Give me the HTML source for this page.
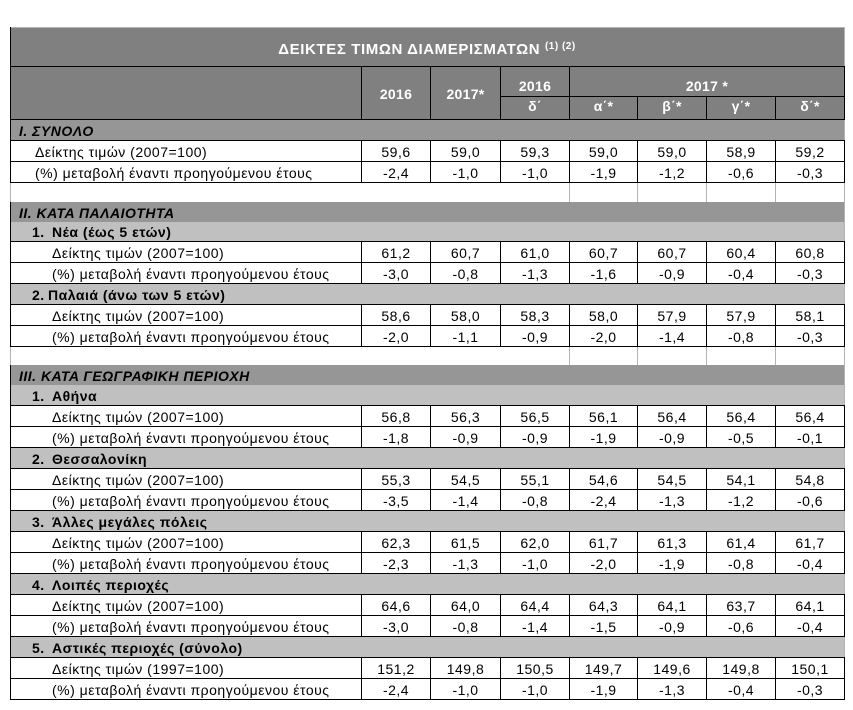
<!DOCTYPE html>
<html>
<head>
<meta charset="utf-8">
<style>
body{margin:0;background:#fff;}
#c{position:relative;width:853px;height:710px;overflow:hidden;font-family:"Liberation Sans",Arial,sans-serif;font-size:14px;letter-spacing:0.5px;color:#000;background:#fff;}
.f{position:absolute;left:10px;width:835px;}
.d{background:#969696;}
.s{background:#c0c0c0;}
.h{position:absolute;height:1px;background:#000;left:10px;width:835px;}
.v{position:absolute;width:1px;background:#000;}
.g{background:#b4b4b4;}
.t{position:absolute;height:20px;line-height:20px;white-space:nowrap;}
.n{text-align:center;}
.bi{font-weight:bold;font-style:italic;}
.b{font-weight:bold;}
.w{color:#fff;font-weight:bold;letter-spacing:0.3px;}
</style>
</head>
<body>
<div id="c">
<!-- fills -->
<div class="f" style="top:28px;height:91px;background:#808080;"></div>
<div class="f d" style="top:120px;height:20px;"></div>
<div class="f d" style="top:202px;height:20px;"></div>
<div class="f s" style="top:222px;height:19px;"></div>
<div class="f s" style="top:284px;height:20px;"></div>
<div class="f d" style="top:365px;height:20px;"></div>
<div class="f s" style="top:385px;height:20px;"></div>
<div class="f s" style="top:448px;height:20px;"></div>
<div class="f s" style="top:511px;height:20px;"></div>
<div class="f s" style="top:574px;height:20px;"></div>
<div class="f s" style="top:637px;height:20px;"></div>

<!-- outer frame -->
<div class="h g" style="top:27px;"></div>
<div class="v" style="left:10px;top:27px;height:673px;"></div>
<div class="v g" style="left:844px;top:27px;height:673px;"></div>

<!-- header lines -->
<div class="h" style="top:66px;"></div>
<div class="h" style="top:119px;"></div>
<div class="h" style="top:96px;left:500px;width:345px;"></div>
<div class="v" style="left:361px;top:66px;height:54px;"></div>
<div class="v" style="left:430px;top:66px;height:54px;"></div>
<div class="v" style="left:500px;top:66px;height:54px;"></div>
<div class="v" style="left:569px;top:66px;height:54px;"></div>
<div class="v" style="left:844px;top:66px;height:54px;"></div>
<div class="v" style="left:637px;top:96px;height:24px;"></div>
<div class="v" style="left:706px;top:96px;height:24px;"></div>
<div class="v" style="left:775px;top:96px;height:24px;"></div>

<!-- blank rows -->
<div class="v g" style="left:10px;top:183px;height:19px;"></div>
<div class="v g" style="left:569px;top:183px;height:19px;"></div>
<div class="v g" style="left:637px;top:183px;height:19px;"></div>
<div class="v g" style="left:706px;top:183px;height:19px;"></div>
<div class="v g" style="left:775px;top:183px;height:19px;"></div>
<div class="v g" style="left:844px;top:183px;height:19px;"></div>
<div class="v g" style="left:10px;top:347px;height:18px;"></div>
<div class="v g" style="left:569px;top:347px;height:18px;"></div>
<div class="v g" style="left:637px;top:347px;height:18px;"></div>
<div class="v g" style="left:706px;top:347px;height:18px;"></div>
<div class="v g" style="left:775px;top:347px;height:18px;"></div>
<div class="v g" style="left:844px;top:347px;height:18px;"></div>

<!-- data block lines: horizontals -->
<div class="h" style="top:140px;"></div><div class="h" style="top:161px;"></div><div class="h" style="top:182px;"></div>
<div class="h" style="top:241px;"></div><div class="h" style="top:262px;"></div><div class="h" style="top:283px;"></div>
<div class="h" style="top:304px;"></div><div class="h" style="top:325px;"></div><div class="h" style="top:346px;"></div>
<div class="h" style="top:405px;"></div><div class="h" style="top:426px;"></div><div class="h" style="top:447px;"></div>
<div class="h" style="top:468px;"></div><div class="h" style="top:489px;"></div><div class="h" style="top:510px;"></div>
<div class="h" style="top:531px;"></div><div class="h" style="top:552px;"></div><div class="h" style="top:573px;"></div>
<div class="h" style="top:594px;"></div><div class="h" style="top:615px;"></div><div class="h" style="top:636px;"></div>
<div class="h" style="top:657px;"></div><div class="h" style="top:678px;"></div><div class="h" style="top:699px;"></div>

<!-- data block verticals -->
<div class="v" style="left:844px;top:140px;height:43px;"></div><div class="v" style="left:361px;top:140px;height:43px;"></div><div class="v" style="left:430px;top:140px;height:43px;"></div><div class="v" style="left:500px;top:140px;height:43px;"></div><div class="v" style="left:569px;top:140px;height:43px;"></div><div class="v" style="left:637px;top:140px;height:43px;"></div><div class="v" style="left:706px;top:140px;height:43px;"></div><div class="v" style="left:775px;top:140px;height:43px;"></div>
<div class="v" style="left:844px;top:241px;height:43px;"></div><div class="v" style="left:361px;top:241px;height:43px;"></div><div class="v" style="left:430px;top:241px;height:43px;"></div><div class="v" style="left:500px;top:241px;height:43px;"></div><div class="v" style="left:569px;top:241px;height:43px;"></div><div class="v" style="left:637px;top:241px;height:43px;"></div><div class="v" style="left:706px;top:241px;height:43px;"></div><div class="v" style="left:775px;top:241px;height:43px;"></div>
<div class="v" style="left:844px;top:304px;height:43px;"></div><div class="v" style="left:361px;top:304px;height:43px;"></div><div class="v" style="left:430px;top:304px;height:43px;"></div><div class="v" style="left:500px;top:304px;height:43px;"></div><div class="v" style="left:569px;top:304px;height:43px;"></div><div class="v" style="left:637px;top:304px;height:43px;"></div><div class="v" style="left:706px;top:304px;height:43px;"></div><div class="v" style="left:775px;top:304px;height:43px;"></div>
<div class="v" style="left:844px;top:405px;height:43px;"></div><div class="v" style="left:361px;top:405px;height:43px;"></div><div class="v" style="left:430px;top:405px;height:43px;"></div><div class="v" style="left:500px;top:405px;height:43px;"></div><div class="v" style="left:569px;top:405px;height:43px;"></div><div class="v" style="left:637px;top:405px;height:43px;"></div><div class="v" style="left:706px;top:405px;height:43px;"></div><div class="v" style="left:775px;top:405px;height:43px;"></div>
<div class="v" style="left:844px;top:468px;height:43px;"></div><div class="v" style="left:361px;top:468px;height:43px;"></div><div class="v" style="left:430px;top:468px;height:43px;"></div><div class="v" style="left:500px;top:468px;height:43px;"></div><div class="v" style="left:569px;top:468px;height:43px;"></div><div class="v" style="left:637px;top:468px;height:43px;"></div><div class="v" style="left:706px;top:468px;height:43px;"></div><div class="v" style="left:775px;top:468px;height:43px;"></div>
<div class="v" style="left:844px;top:531px;height:43px;"></div><div class="v" style="left:361px;top:531px;height:43px;"></div><div class="v" style="left:430px;top:531px;height:43px;"></div><div class="v" style="left:500px;top:531px;height:43px;"></div><div class="v" style="left:569px;top:531px;height:43px;"></div><div class="v" style="left:637px;top:531px;height:43px;"></div><div class="v" style="left:706px;top:531px;height:43px;"></div><div class="v" style="left:775px;top:531px;height:43px;"></div>
<div class="v" style="left:844px;top:594px;height:43px;"></div><div class="v" style="left:361px;top:594px;height:43px;"></div><div class="v" style="left:430px;top:594px;height:43px;"></div><div class="v" style="left:500px;top:594px;height:43px;"></div><div class="v" style="left:569px;top:594px;height:43px;"></div><div class="v" style="left:637px;top:594px;height:43px;"></div><div class="v" style="left:706px;top:594px;height:43px;"></div><div class="v" style="left:775px;top:594px;height:43px;"></div>
<div class="v" style="left:844px;top:657px;height:43px;"></div><div class="v" style="left:361px;top:657px;height:43px;"></div><div class="v" style="left:430px;top:657px;height:43px;"></div><div class="v" style="left:500px;top:657px;height:43px;"></div><div class="v" style="left:569px;top:657px;height:43px;"></div><div class="v" style="left:637px;top:657px;height:43px;"></div><div class="v" style="left:706px;top:657px;height:43px;"></div><div class="v" style="left:775px;top:657px;height:43px;"></div>

<!-- Title -->
<div class="t" style="left:10px;width:834px;top:37px;text-align:center;color:#fff;font-weight:bold;font-size:15px;letter-spacing:0.6px;">ΔΕΙΚΤΕΣ ΤΙΜΩΝ ΔΙΑΜΕΡΙΣΜΑΤΩΝ <span style="font-size:10px;letter-spacing:0.5px;vertical-align:5px;">(1) (2)</span></div>

<!-- Header texts -->
<div class="t n w" style="left:362px;width:68px;top:84px;">2016</div>
<div class="t n w" style="left:431px;width:69px;top:84px;">2017*</div>
<div class="t n w" style="left:501px;width:68px;top:76px;">2016</div>
<div class="t n w" style="left:570px;width:274px;top:76px;">2017 *</div>
<div class="t n w" style="left:501px;width:68px;top:96px;">δ΄</div>
<div class="t n w" style="left:570px;width:67px;top:96px;">α΄*</div>
<div class="t n w" style="left:638px;width:68px;top:96px;">β΄*</div>
<div class="t n w" style="left:707px;width:68px;top:96px;">γ΄*</div>
<div class="t n w" style="left:776px;width:68px;top:96px;">δ΄*</div>

<!-- Section labels -->
<div class="t bi" style="left:19px;top:121px;">I. ΣΥΝΟΛΟ</div>
<div class="t bi" style="left:19px;top:203px;">II. ΚΑΤΑ ΠΑΛΑΙΟΤΗΤΑ</div>
<div class="t b" style="left:32px;top:222px;">1.</div><div class="t b" style="left:52px;top:222px;">Νέα (έως 5 ετών)</div>
<div class="t b" style="left:32px;top:285px;">2.</div><div class="t b" style="left:48px;top:285px;">Παλαιά (άνω των 5 ετών)</div>
<div class="t bi" style="left:19px;top:366px;">III. ΚΑΤΑ ΓΕΩΓΡΑΦΙΚΗ ΠΕΡΙΟΧΗ</div>
<div class="t b" style="left:32px;top:386px;">1.</div><div class="t b" style="left:52px;top:386px;">Αθήνα</div>
<div class="t b" style="left:32px;top:449px;">2.</div><div class="t b" style="left:52px;top:449px;">Θεσσαλονίκη</div>
<div class="t b" style="left:32px;top:512px;">3.</div><div class="t b" style="left:52px;top:512px;">Άλλες μεγάλες πόλεις</div>
<div class="t b" style="left:32px;top:575px;">4.</div><div class="t b" style="left:52px;top:575px;">Λοιπές περιοχές</div>
<div class="t b" style="left:32px;top:638px;">5.</div><div class="t b" style="left:52px;top:638px;">Αστικές περιοχές (σύνολο)</div>

<!-- Data rows -->
<div class="t" style="left:35px;top:142px;">Δείκτης τιμών (2007=100)</div>
<div class="t n" style="left:362px;width:68px;top:142px;">59,6</div><div class="t n" style="left:431px;width:69px;top:142px;">59,0</div><div class="t n" style="left:501px;width:68px;top:142px;">59,3</div><div class="t n" style="left:570px;width:67px;top:142px;">59,0</div><div class="t n" style="left:638px;width:68px;top:142px;">59,0</div><div class="t n" style="left:707px;width:68px;top:142px;">58,9</div><div class="t n" style="left:776px;width:68px;top:142px;">59,2</div>
<div class="t" style="left:35px;top:163px;">(%) μεταβολή έναντι προηγούμενου έτους</div>
<div class="t n" style="left:362px;width:68px;top:163px;">-2,4</div><div class="t n" style="left:431px;width:69px;top:163px;">-1,0</div><div class="t n" style="left:501px;width:68px;top:163px;">-1,0</div><div class="t n" style="left:570px;width:67px;top:163px;">-1,9</div><div class="t n" style="left:638px;width:68px;top:163px;">-1,2</div><div class="t n" style="left:707px;width:68px;top:163px;">-0,6</div><div class="t n" style="left:776px;width:68px;top:163px;">-0,3</div>

<div class="t" style="left:52px;top:243px;">Δείκτης τιμών (2007=100)</div>
<div class="t n" style="left:362px;width:68px;top:243px;">61,2</div><div class="t n" style="left:431px;width:69px;top:243px;">60,7</div><div class="t n" style="left:501px;width:68px;top:243px;">61,0</div><div class="t n" style="left:570px;width:67px;top:243px;">60,7</div><div class="t n" style="left:638px;width:68px;top:243px;">60,7</div><div class="t n" style="left:707px;width:68px;top:243px;">60,4</div><div class="t n" style="left:776px;width:68px;top:243px;">60,8</div>
<div class="t" style="left:52px;top:264px;">(%) μεταβολή έναντι προηγούμενου έτους</div>
<div class="t n" style="left:362px;width:68px;top:264px;">-3,0</div><div class="t n" style="left:431px;width:69px;top:264px;">-0,8</div><div class="t n" style="left:501px;width:68px;top:264px;">-1,3</div><div class="t n" style="left:570px;width:67px;top:264px;">-1,6</div><div class="t n" style="left:638px;width:68px;top:264px;">-0,9</div><div class="t n" style="left:707px;width:68px;top:264px;">-0,4</div><div class="t n" style="left:776px;width:68px;top:264px;">-0,3</div>

<div class="t" style="left:52px;top:306px;">Δείκτης τιμών (2007=100)</div>
<div class="t n" style="left:362px;width:68px;top:306px;">58,6</div><div class="t n" style="left:431px;width:69px;top:306px;">58,0</div><div class="t n" style="left:501px;width:68px;top:306px;">58,3</div><div class="t n" style="left:570px;width:67px;top:306px;">58,0</div><div class="t n" style="left:638px;width:68px;top:306px;">57,9</div><div class="t n" style="left:707px;width:68px;top:306px;">57,9</div><div class="t n" style="left:776px;width:68px;top:306px;">58,1</div>
<div class="t" style="left:52px;top:327px;">(%) μεταβολή έναντι προηγούμενου έτους</div>
<div class="t n" style="left:362px;width:68px;top:327px;">-2,0</div><div class="t n" style="left:431px;width:69px;top:327px;">-1,1</div><div class="t n" style="left:501px;width:68px;top:327px;">-0,9</div><div class="t n" style="left:570px;width:67px;top:327px;">-2,0</div><div class="t n" style="left:638px;width:68px;top:327px;">-1,4</div><div class="t n" style="left:707px;width:68px;top:327px;">-0,8</div><div class="t n" style="left:776px;width:68px;top:327px;">-0,3</div>

<div class="t" style="left:52px;top:407px;">Δείκτης τιμών (2007=100)</div>
<div class="t n" style="left:362px;width:68px;top:407px;">56,8</div><div class="t n" style="left:431px;width:69px;top:407px;">56,3</div><div class="t n" style="left:501px;width:68px;top:407px;">56,5</div><div class="t n" style="left:570px;width:67px;top:407px;">56,1</div><div class="t n" style="left:638px;width:68px;top:407px;">56,4</div><div class="t n" style="left:707px;width:68px;top:407px;">56,4</div><div class="t n" style="left:776px;width:68px;top:407px;">56,4</div>
<div class="t" style="left:52px;top:428px;">(%) μεταβολή έναντι προηγούμενου έτους</div>
<div class="t n" style="left:362px;width:68px;top:428px;">-1,8</div><div class="t n" style="left:431px;width:69px;top:428px;">-0,9</div><div class="t n" style="left:501px;width:68px;top:428px;">-0,9</div><div class="t n" style="left:570px;width:67px;top:428px;">-1,9</div><div class="t n" style="left:638px;width:68px;top:428px;">-0,9</div><div class="t n" style="left:707px;width:68px;top:428px;">-0,5</div><div class="t n" style="left:776px;width:68px;top:428px;">-0,1</div>

<div class="t" style="left:52px;top:470px;">Δείκτης τιμών (2007=100)</div>
<div class="t n" style="left:362px;width:68px;top:470px;">55,3</div><div class="t n" style="left:431px;width:69px;top:470px;">54,5</div><div class="t n" style="left:501px;width:68px;top:470px;">55,1</div><div class="t n" style="left:570px;width:67px;top:470px;">54,6</div><div class="t n" style="left:638px;width:68px;top:470px;">54,5</div><div class="t n" style="left:707px;width:68px;top:470px;">54,1</div><div class="t n" style="left:776px;width:68px;top:470px;">54,8</div>
<div class="t" style="left:52px;top:491px;">(%) μεταβολή έναντι προηγούμενου έτους</div>
<div class="t n" style="left:362px;width:68px;top:491px;">-3,5</div><div class="t n" style="left:431px;width:69px;top:491px;">-1,4</div><div class="t n" style="left:501px;width:68px;top:491px;">-0,8</div><div class="t n" style="left:570px;width:67px;top:491px;">-2,4</div><div class="t n" style="left:638px;width:68px;top:491px;">-1,3</div><div class="t n" style="left:707px;width:68px;top:491px;">-1,2</div><div class="t n" style="left:776px;width:68px;top:491px;">-0,6</div>

<div class="t" style="left:52px;top:533px;">Δείκτης τιμών (2007=100)</div>
<div class="t n" style="left:362px;width:68px;top:533px;">62,3</div><div class="t n" style="left:431px;width:69px;top:533px;">61,5</div><div class="t n" style="left:501px;width:68px;top:533px;">62,0</div><div class="t n" style="left:570px;width:67px;top:533px;">61,7</div><div class="t n" style="left:638px;width:68px;top:533px;">61,3</div><div class="t n" style="left:707px;width:68px;top:533px;">61,4</div><div class="t n" style="left:776px;width:68px;top:533px;">61,7</div>
<div class="t" style="left:52px;top:554px;">(%) μεταβολή έναντι προηγούμενου έτους</div>
<div class="t n" style="left:362px;width:68px;top:554px;">-2,3</div><div class="t n" style="left:431px;width:69px;top:554px;">-1,3</div><div class="t n" style="left:501px;width:68px;top:554px;">-1,0</div><div class="t n" style="left:570px;width:67px;top:554px;">-2,0</div><div class="t n" style="left:638px;width:68px;top:554px;">-1,9</div><div class="t n" style="left:707px;width:68px;top:554px;">-0,8</div><div class="t n" style="left:776px;width:68px;top:554px;">-0,4</div>

<div class="t" style="left:52px;top:596px;">Δείκτης τιμών (2007=100)</div>
<div class="t n" style="left:362px;width:68px;top:596px;">64,6</div><div class="t n" style="left:431px;width:69px;top:596px;">64,0</div><div class="t n" style="left:501px;width:68px;top:596px;">64,4</div><div class="t n" style="left:570px;width:67px;top:596px;">64,3</div><div class="t n" style="left:638px;width:68px;top:596px;">64,1</div><div class="t n" style="left:707px;width:68px;top:596px;">63,7</div><div class="t n" style="left:776px;width:68px;top:596px;">64,1</div>
<div class="t" style="left:52px;top:617px;">(%) μεταβολή έναντι προηγούμενου έτους</div>
<div class="t n" style="left:362px;width:68px;top:617px;">-3,0</div><div class="t n" style="left:431px;width:69px;top:617px;">-0,8</div><div class="t n" style="left:501px;width:68px;top:617px;">-1,4</div><div class="t n" style="left:570px;width:67px;top:617px;">-1,5</div><div class="t n" style="left:638px;width:68px;top:617px;">-0,9</div><div class="t n" style="left:707px;width:68px;top:617px;">-0,6</div><div class="t n" style="left:776px;width:68px;top:617px;">-0,4</div>

<div class="t" style="left:52px;top:659px;">Δείκτης τιμών (1997=100)</div>
<div class="t n" style="left:362px;width:68px;top:659px;">151,2</div><div class="t n" style="left:431px;width:69px;top:659px;">149,8</div><div class="t n" style="left:501px;width:68px;top:659px;">150,5</div><div class="t n" style="left:570px;width:67px;top:659px;">149,7</div><div class="t n" style="left:638px;width:68px;top:659px;">149,6</div><div class="t n" style="left:707px;width:68px;top:659px;">149,8</div><div class="t n" style="left:776px;width:68px;top:659px;">150,1</div>
<div class="t" style="left:52px;top:680px;">(%) μεταβολή έναντι προηγούμενου έτους</div>
<div class="t n" style="left:362px;width:68px;top:680px;">-2,4</div><div class="t n" style="left:431px;width:69px;top:680px;">-1,0</div><div class="t n" style="left:501px;width:68px;top:680px;">-1,0</div><div class="t n" style="left:570px;width:67px;top:680px;">-1,9</div><div class="t n" style="left:638px;width:68px;top:680px;">-1,3</div><div class="t n" style="left:707px;width:68px;top:680px;">-0,4</div><div class="t n" style="left:776px;width:68px;top:680px;">-0,3</div>
</div>
</body>
</html>
